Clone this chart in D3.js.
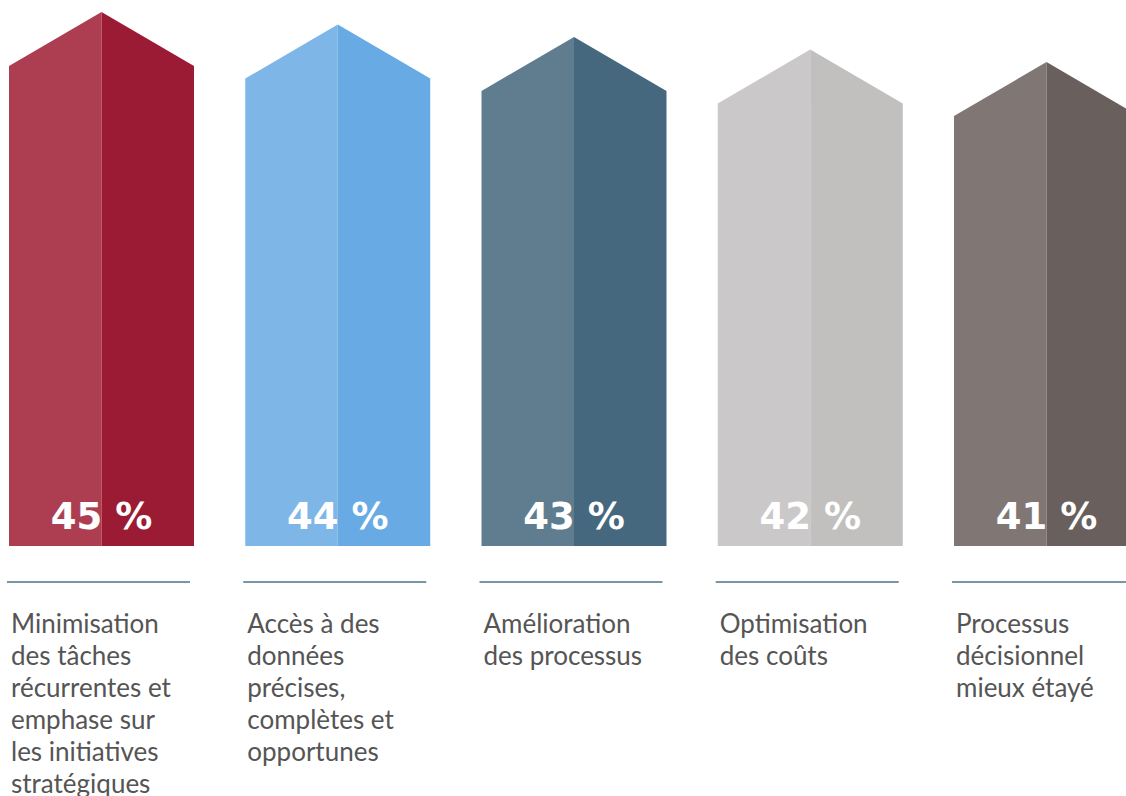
<!DOCTYPE html>
<html>
<head>
<meta charset="utf-8">
<script src="https://cdn.jsdelivr.net/npm/d3@7"></script>
<style>
    html, body { margin: 0; padding: 0; background: #fff; }
    #chart { width: 1126px; height: 796px; overflow: hidden; }
</style>
</head>
<body>
<div id="chart"></div>
<script>
// data
var categories = ["min", "acces", "amelio", "optim", "decision"];
var values = [45, 44, 43, 42, 41];
var valueLabels = ["45 %", "44 %", "43 %", "42 %", "41 %"];
var captions = [
    ["Minimisation", "des tâches", "récurrentes et", "emphase sur", "les initiatives", "stratégiques"],
    ["Accès à des", "données", "précises,", "complètes et", "opportunes"],
    ["Amélioration", "des processus"],
    ["Optimisation", "des coûts"],
    ["Processus", "décisionnel", "mieux étayé"]
];
var lightColors = ["#ad3d51", "#7eb6e8", "#5f7d8f", "#cac8c9", "#807775"];
var darkColors = ["#9c1b34", "#67aae4", "#45687f", "#c1c0be", "#695f5c"];

var width = 1126, height = 796;
var baseY = 546;
var roofH = 54;

var svg = d3.select("#chart").append("svg")
    .attr("width", width)
    .attr("height", height);

// 5 bands of 185px, step ~236px, last one runs off the right edge
var x = d3.scaleBand()
    .domain(categories)
    .range([9, 1139])
    .paddingInner(1 - 185 / 236.25)
    .paddingOuter(0)
    .align(0);

// apex height per value
var y = d3.scaleLinear()
    .domain([41, 45])
    .range([62, 12]);

var bars = svg.selectAll(".bar")
    .data(categories)
    .enter()
    .append("g")
    .attr("class", "bar");

// left half (lighter)
bars.append("path")
    .attr("fill", (d, i) => lightColors[i])
    .attr("d", (d, i) => {
        var x0 = x(d), xm = x(d) + x.bandwidth() / 2;
        var top = y(values[i]);
        return "M" + x0 + "," + baseY + "L" + x0 + "," + (top + roofH)
            + "L" + xm + "," + top + "L" + xm + "," + baseY + "Z";
    });

// right half (darker)
bars.append("path")
    .attr("fill", (d, i) => darkColors[i])
    .attr("d", (d, i) => {
        var x1 = x(d) + x.bandwidth(), xm = x(d) + x.bandwidth() / 2;
        var top = y(values[i]);
        return "M" + xm + "," + baseY + "L" + xm + "," + top
            + "L" + x1 + "," + (top + roofH) + "L" + x1 + "," + baseY + "Z";
    });

// value labels
bars.append("text")
    .attr("x", d => x(d) + x.bandwidth() / 2)
    .attr("y", 529)
    .attr("text-anchor", "middle")
    .attr("fill", "#fff")
    .style("font-family", "'DejaVu Sans', Verdana, sans-serif")
    .style("font-weight", "bold")
    .style("font-size", "37px")
    .text((d, i) => valueLabels[i]);

// separator lines
bars.append("line")
    .attr("x1", d => x(d) - 2)
    .attr("x2", d => x(d) + x.bandwidth() - 4)
    .attr("y1", 582)
    .attr("y2", 582)
    .attr("stroke", "#4e7387")
    .attr("stroke-width", 1.5);

// captions
bars.append("text")
    .attr("x", d => x(d) + 2)
    .attr("y", 633)
    .attr("fill", "#555")
    .style("font-family", "Lato, 'Open Sans', sans-serif")
    .style("font-size", "26px")
    .selectAll("tspan")
    .data((d, i) => captions[i])
    .enter()
    .append("tspan")
    .attr("x", function() { return d3.select(this.parentNode).attr("x"); })
    .attr("dy", (d, j) => j === 0 ? 0 : 32)
    .text(d => d);
</script>
</body>
</html>
